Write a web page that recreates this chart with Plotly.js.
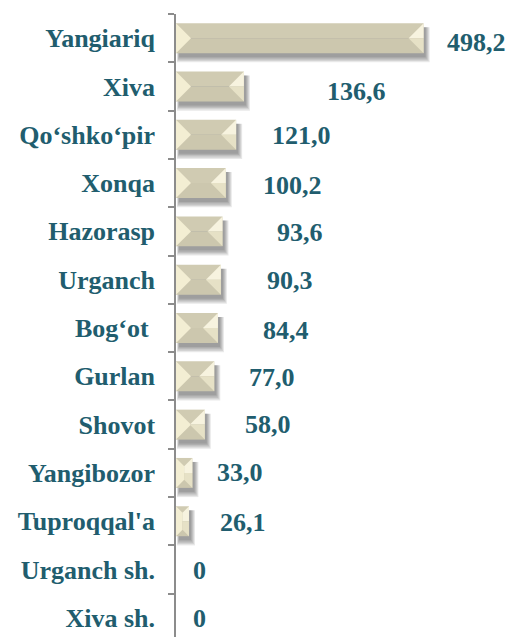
<!DOCTYPE html>
<html><head><meta charset="utf-8">
<script src="https://cdn.plot.ly/plotly-3.0.1.min.js"></script>
</head>
<body style="margin:0;overflow:hidden">
<div id="chart"></div>
<script>
// ---- data ----
const categories = ["Yangiariq","Xiva","Qo‘shko‘pir","Xonqa","Hazorasp","Urganch","Bog‘ot\u00A0","Gurlan","Shovot","Yangibozor","Tuproqqal'a","Urganch sh.","Xiva sh."];
const values = [498.2,136.6,121.0,100.2,93.6,90.3,84.4,77.0,58.0,33.0,26.1,0,0];
const valueLabels = ["498,2","136,6","121,0","100,2","93,6","90,3","84,4","77,0","58,0","33,0","26,1","0","0"];

// ---- style ----
const labelNudgeX = [21,81,34,35,52,44,43,33,38,23,29,15,15];
const labelNudgeY = [-4,-5,-1,-2,-1,-1,-2,-1,0,0,-1,-1,-1];
const TEAL = "#215d6e";
const FONT = "Liberation Serif";
const W = 509, H = 642, ML = 176, MR = 0, MT = 14, MB = 0;
const XMAX = 670;
const HALF = 0.31; // half bar thickness, category units

const pxPerUnit = (W - ML - MR) / XMAX;
const bandPx = (H - MT - MB) / categories.length;
const hPx = HALF * bandPx;

const barTop = {
  type: "bar", orientation: "h", y: categories, x: values,
  width: HALF, offset: -HALF,
  marker: {color: "#d0cbb2", line: {width: 0}},
  hoverinfo: "skip", showlegend: false
};
const barBot = {
  type: "bar", orientation: "h", y: categories, x: values,
  width: HALF, offset: 0,
  marker: {color: "#ccc7ae", line: {width: 0}},
  hoverinfo: "skip", showlegend: false
};

const shapes = [];
values.forEach((v, i) => {
  if (v <= 0) return;
  const w = v * pxPerUnit;
  const d = Math.min(hPx, w / 2);
  const h = hPx;
  // soft drop shadow: stacked translucent rectangles under the bar
  for (let e = 0; e <= 4; e++) {
    shapes.push({type: "rect", xref: "x", yref: "y", xsizemode: "pixel", xanchor: 1e-6,
      x0: 3 - e * 0.5, x1: w + 2 + e,
      y0: i - HALF + 4 / bandPx, y1: i + HALF + (4 + e * 1.3) / bandPx,
      fillcolor: "rgba(0,0,0,0.09)", line: {width: 0}, layer: "below"});
  }
  const base = {type: "path", xref: "x", yref: "y", xsizemode: "pixel", ysizemode: "pixel",
    yanchor: i, line: {width: 0}, layer: "above"};
  shapes.push(Object.assign({}, base, {xanchor: 1e-6,
    path: `M0,${h} L${d},${h-d} L${d},${-(h-d)} L0,${-h} Z`, fillcolor: "#f3eed3"}));
  shapes.push(Object.assign({}, base, {xanchor: v,
    path: `M0,${h} L${-d},${h-d} L${-d},0 L0,0 Z`, fillcolor: "#f7f3df"}));
  shapes.push(Object.assign({}, base, {xanchor: v,
    path: `M0,0 L${-d},0 L${-d},${-(h-d)} L0,${-h} Z`, fillcolor: "#e6e1c6"}));
});

const annotations = values.map((v, i) => ({
  x: v, y: i, xref: "x", yref: "y", text: valueLabels[i], showarrow: false,
  xanchor: "left", yanchor: "middle", xshift: labelNudgeX[i], yshift: labelNudgeY[i],
  font: {family: FONT, size: 26, weight: "bold", color: TEAL}
}));

const layout = {
  width: W, height: H,
  margin: {l: ML, r: MR, t: MT, b: MB, pad: 0},
  paper_bgcolor: "#fff", plot_bgcolor: "#fff",
  barmode: "overlay", showlegend: false,
  xaxis: {range: [0, XMAX], visible: false},
  yaxis: {type: "category", categoryorder: "array", categoryarray: categories,
    autorange: "reversed", showline: true, linecolor: "#8c8c8c", linewidth: 1.5,
    ticks: "outside", ticklen: 6, tickwidth: 1.5, tickcolor: "#8c8c8c",
    tickson: "boundaries", showgrid: false, zeroline: false,
    ticklabelstandoff: 14, automargin: false,
    tickfont: {family: FONT, size: 26, weight: "bold", color: TEAL}},
  shapes: shapes,
  annotations: annotations
};

Plotly.newPlot("chart", [barTop, barBot], layout, {displayModeBar: false});
</script>
</body></html>
